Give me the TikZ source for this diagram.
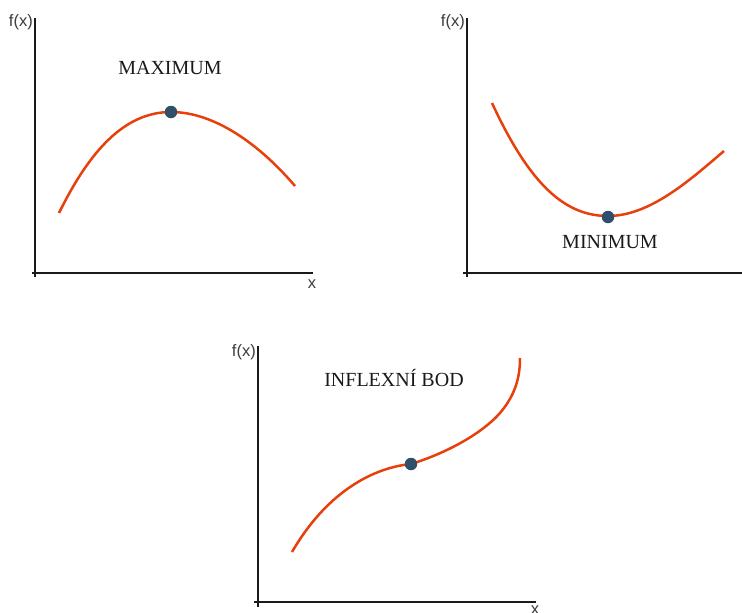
\documentclass[tikz,border=0pt]{standalone}
\usepackage{fontspec}
\setmainfont{Liberation Serif}
\newfontfamily\axfont{Liberation Sans}
\definecolor{curvecol}{RGB}{232,64,12}
\definecolor{dotcol}{RGB}{47,80,104}
\definecolor{axcol}{RGB}{28,26,24}
\begin{document}
\begin{tikzpicture}[x=1pt,y=-1pt,
  axis/.style={draw=axcol,line width=2.8pt},
  curve/.style={draw=curvecol,line width=2.5pt},
  pt/.style={circle,fill=dotcol,inner sep=0pt,minimum size=12.5pt},
  axlabel/.style={inner sep=0pt,font=\axfont\fontsize{16.5}{18}\selectfont,text=axcol!85},
  title/.style={inner sep=0pt,font=\fontsize{20}{22}\selectfont,text=axcol}]
\useasboundingbox (0,0) rectangle (742,613);
% plot 1
\draw[axis] (35,18) -- (35,277);
\draw[axis] (32,273) -- (313,273);
\node[axlabel,anchor=east] (fx1) at (33,22) {f(x)};
\node[axlabel] (x1) at (312,284) {x};
\node[title] (max) at (170,68) {MAXIMUM};
\draw[curve] (59,213) .. controls (90,150) and (125,112) .. (171,112)
  .. controls (215,112) and (260,145) .. (295,186);
\node[pt] (p1) at (171,112) {};
% plot 2
\draw[axis] (467,18) -- (467,277);
\draw[axis] (463,273) -- (745,273);
\node[axlabel,anchor=east] (fx2) at (465,22) {f(x)};
\node[axlabel] (x2) at (746,284) {x};
\node[title] (min) at (610,242) {MINIMUM};
\draw[curve] (492,103) .. controls (530,185) and (565,216) .. (608,216)
  .. controls (650,216) and (690,180) .. (724,151);
\node[pt] (p2) at (608,217) {};
% plot 3
\draw[axis] (258,346) -- (258,607);
\draw[axis] (254,602) -- (536,602);
\node[axlabel,anchor=east] (fx3) at (256,352) {f(x)};
\node[axlabel] (x3) at (535,610) {x};
\node[title] (infl) at (394,378) {INFLEXNÍ BOD};
\draw[curve] (292,552) .. controls (325,495) and (370,468) .. (411,464)
  .. controls (450,452) and (488,430) .. (504,408)
  .. controls (515,393) and (520,378) .. (520,358);
\node[pt] (p3) at (411,464) {};
\end{tikzpicture}
\end{document}
